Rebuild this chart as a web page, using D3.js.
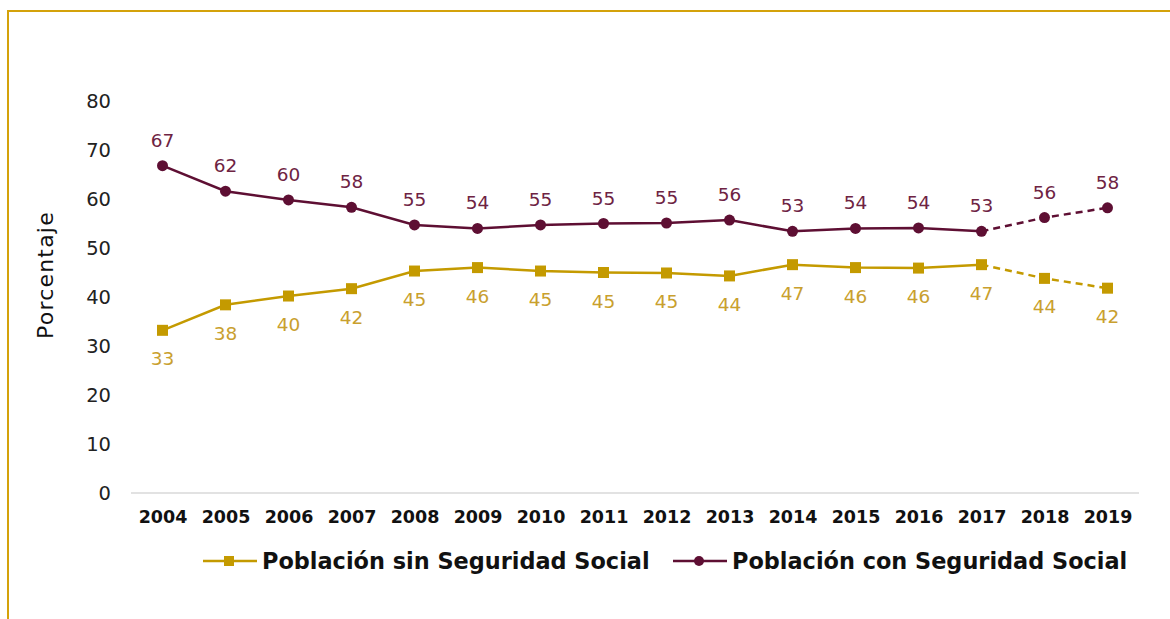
<!DOCTYPE html>
<html>
<head>
<meta charset="utf-8">
<script src="https://cdn.jsdelivr.net/npm/d3@7"></script>
<style>
  body { margin: 0; background: #fff; }
  svg { display: block; font-family: "DejaVu Sans", sans-serif; }
</style>
</head>
<body>
<svg id="chart" width="1170" height="619"></svg>
<script>
// years on the x axis
const years = ["2004","2005","2006","2007","2008","2009","2010","2011","2012","2013","2014","2015","2016","2017","2018","2019"];
// población con seguridad social (%)
const conSeguridad = [66.8, 61.6, 59.8, 58.3, 54.7, 54.0, 54.7, 55.0, 55.1, 55.7, 53.4, 54.0, 54.1, 53.4, 56.2, 58.2];
// población sin seguridad social (%)
const sinSeguridad = [33.2, 38.4, 40.2, 41.7, 45.3, 46.0, 45.3, 45.0, 44.9, 44.3, 46.6, 46.0, 45.9, 46.6, 43.8, 41.8];
const yTicks = [0, 10, 20, 30, 40, 50, 60, 70, 80];
const lastSolid = "2017"; // after this the line is dashed

const colSin = "#C49A00", colSinLbl = "#C9A02E";
const colCon = "#5E0F33", colConLbl = "#6E2343";
const gold = "#D4A20A";

const svg = d3.select("#chart");

// frame (top + left lines)
svg.append("path")
  .attr("d", "M8,619 V11 H1170")
  .attr("fill", "none")
  .attr("stroke", gold)
  .attr("stroke-width", 2);

const x = d3.scalePoint().domain(years).range([131, 1139]).padding(0.5);
const y = d3.scaleLinear().domain([0, 80]).range([493, 101]);

// y tick labels
const yAxis = svg.append("g").attr("transform", "translate(111,0)")
  .call(d3.axisLeft(y).tickValues(yTicks).tickSize(0).tickPadding(0));
yAxis.select(".domain").remove();
yAxis.selectAll("text").attr("font-size", 19.5).attr("fill", "#222")
  .attr("font-family", "DejaVu Sans");

// baseline
svg.append("line")
  .attr("x1", 131).attr("x2", 1139)
  .attr("y1", y(0)).attr("y2", y(0))
  .attr("stroke", "#d9d9d9").attr("stroke-width", 1.5);

// x tick labels
const xAxis = svg.append("g").attr("transform", `translate(0,${y(0)})`)
  .call(d3.axisBottom(x).tickSize(0).tickPadding(18));
xAxis.select(".domain").remove();
xAxis.selectAll("text").attr("font-size", 17.5).attr("font-weight", "bold")
  .attr("fill", "#111").attr("font-family", "DejaVu Sans");

// y axis title
svg.append("text")
  .attr("transform", "translate(53,275) rotate(-90)")
  .attr("text-anchor", "middle")
  .attr("font-size", 22).attr("letter-spacing", 1.2).attr("fill", "#111")
  .text("Porcentaje");

const series = [
  { name: "Población sin Seguridad Social", values: sinSeguridad, color: colSin, lbl: colSinLbl, marker: "square", dy: 35 },
  { name: "Población con Seguridad Social", values: conSeguridad, color: colCon, lbl: colConLbl, marker: "circle", dy: -19 }
];

const line = d3.line().x(d => x(d.year)).y(d => y(d.value));
const cut = years.indexOf(lastSolid);

series.forEach(s => {
  const pts = years.map((yr, i) => ({ year: yr, value: s.values[i] }));
  const g = svg.append("g");
  g.append("path").attr("d", line(pts.slice(0, cut + 1)))
    .attr("fill", "none").attr("stroke", s.color).attr("stroke-width", 2.5);
  g.append("path").attr("d", line(pts.slice(cut)))
    .attr("fill", "none").attr("stroke", s.color).attr("stroke-width", 2.5)
    .attr("stroke-dasharray", "7,5");

  if (s.marker === "circle") {
    g.selectAll("circle").data(pts).join("circle")
      .attr("cx", d => x(d.year)).attr("cy", d => y(d.value))
      .attr("r", 5.5).attr("fill", s.color);
  } else {
    g.selectAll("rect").data(pts).join("rect")
      .attr("x", d => x(d.year) - 5.5).attr("y", d => y(d.value) - 5.5)
      .attr("width", 11).attr("height", 11).attr("fill", s.color);
  }

  g.selectAll("text.lbl").data(pts).join("text")
    .attr("class", "lbl")
    .attr("x", d => x(d.year)).attr("y", d => y(d.value) + s.dy)
    .attr("text-anchor", "middle")
    .attr("font-size", 18.5).attr("fill", s.lbl)
    .text(d => d3.format(".0f")(d.value));
});

// legend
const legendX = [203, 673];
series.forEach((s, i) => {
  const lg = svg.append("g").attr("transform", `translate(${legendX[i]},561)`);
  lg.append("line").attr("x1", 0).attr("x2", 54).attr("y1", 0).attr("y2", 0)
    .attr("stroke", s.color).attr("stroke-width", 2.5);
  if (s.marker === "circle") {
    lg.append("circle").attr("cx", 26).attr("cy", 0).attr("r", 5).attr("fill", s.color);
  } else {
    lg.append("rect").attr("x", 21).attr("y", -5).attr("width", 10).attr("height", 10).attr("fill", s.color);
  }
  lg.append("text").attr("x", 59).attr("y", 8)
    .attr("font-size", 22.4).attr("font-weight", "bold").attr("fill", "#111")
    .text(s.name);
});
</script>
</body>
</html>
